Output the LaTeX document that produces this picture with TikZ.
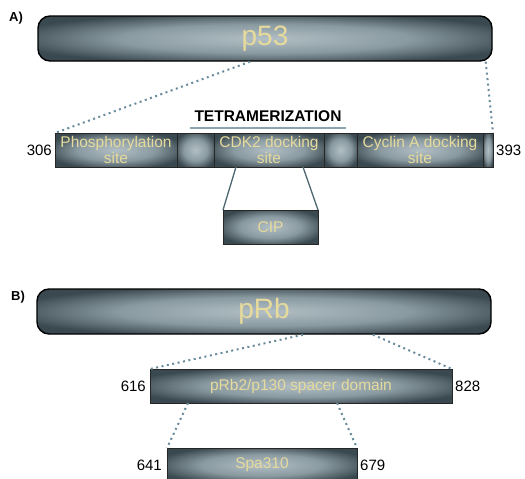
\documentclass[tikz,border=0pt]{standalone}
\usepackage{fontspec}
\setmainfont{Liberation Sans}
\usetikzlibrary{positioning}
\definecolor{barlight}{HTML}{B2BFC5}
\definecolor{barmid}{HTML}{8A9AA1}
\definecolor{bardark}{HTML}{3A494F}
\definecolor{labeltext}{HTML}{E6DA9C}
\definecolor{zoomline}{HTML}{6A8B9C}
\definecolor{stemline}{HTML}{4D6670}
\definecolor{tetraline}{HTML}{8AA3AE}
\pgfdeclareradialshading{barglow}{\pgfpoint{0bp}{0bp}}{color(0bp)=(barlight); color(16bp)=(barmid); color(29bp)=(bardark); color(50bp)=(bardark)}
\tikzset{
    protein bar/.style = {draw=black, line width=1.4pt, rounded corners=12pt, shading=barglow,
        minimum width=454pt, minimum height=45pt, inner sep=0pt, text=labeltext,
        font=\fontsize{28}{30}\selectfont},
    domain box/.style = {draw=black!85, line width=0.7pt, shading=barglow, minimum height=34pt,
        inner sep=0pt, outer sep=0pt, text=labeltext, align=center,
        font=\fontsize{15.5}{16}\selectfont},
    residue/.style = {font=\fontsize{15}{16}\selectfont, inner sep=0pt},
    panel/.style = {font=\bfseries\fontsize{13}{14}\selectfont, inner sep=0pt, anchor=west},
    zoom edge/.style = {draw=zoomline, line width=2pt, dash pattern=on 2pt off 3.5pt},
    stem edge/.style = {draw=stemline, line width=1.3pt},
}
\begin{document}
\begin{tikzpicture}[x=1pt, y=-1pt]
    \clip (0,0) rectangle (525,479);
    \fill[white] (0,0) rectangle (525,479);

    % A) p53
    \node[panel] (panelA) at (9,18) {A)};
    \node[protein bar] (p53) at (265,38.5) {p53};

    \node[domain box, minimum width=122pt, anchor=west] (phos) at (55,150) {Phosphorylation\\site};
    \node[domain box, minimum width=37pt, right=0pt of phos] (linkA) {};
    \node[domain box, minimum width=110pt, right=0pt of linkA] (cdk) {CDK2 docking\\site};
    \node[domain box, minimum width=33pt, right=0pt of cdk] (linkB) {};
    \node[domain box, minimum width=126pt, right=0pt of linkB] (cyc) {Cyclin A docking\\site};
    \node[domain box, minimum width=10pt, right=0pt of cyc] (tailA) {};

    \node[residue, left=3pt of phos] (r306) {306};
    \node[residue, right=3pt of tailA] (r393) {393};

    \node[font=\bfseries\fontsize{15.5}{16}\selectfont, inner sep=0pt] (tetra) at (268,116) {TETRAMERIZATION};
    \draw[draw=tetraline, line width=2.2pt]
        ([xshift=-4pt,yshift=-6pt]tetra.south west) -- ([xshift=4pt,yshift=-6pt]tetra.south east);

    \node[domain box, minimum width=95pt] (cip) at (270.5,227) {CIP};

    \draw[zoom edge] ([xshift=-15pt]p53.south) -- (phos.north west);
    \draw[zoom edge] ([xshift=-7pt]p53.south east) -- (tailA.north east);
    \draw[stem edge] ([xshift=22pt]cdk.south west) -- (cip.north west);
    \draw[stem edge] ([xshift=-21pt]cdk.south east) -- (cip.north east);

    % B) pRb
    \node[panel] (panelB) at (11,297) {B)};
    \node[protein bar] (prb) at (264,311.5) {pRb};

    \node[domain box, minimum width=302pt] (spacer) at (301,386) {pRb2/p130 spacer domain};
    \node[residue, left=4pt of spacer] (r616) {616};
    \node[residue, right=3pt of spacer] (r828) {828};

    \node[domain box, minimum width=190pt] (spa) at (262,465) {Spa310};
    \node[residue, left=5pt of spa] (r641) {641};
    \node[residue, right=3pt of spa] (r679) {679};

    \draw[zoom edge] ([xshift=39pt]prb.south) -- (spacer.north west);
    \draw[zoom edge] ([xshift=109pt]prb.south) -- (spacer.north east);
    \draw[zoom edge] ([xshift=38pt]spacer.south west) -- (spa.north west);
    \draw[zoom edge] ([xshift=-115pt]spacer.south east) -- (spa.north east);
\end{tikzpicture}
\end{document}
